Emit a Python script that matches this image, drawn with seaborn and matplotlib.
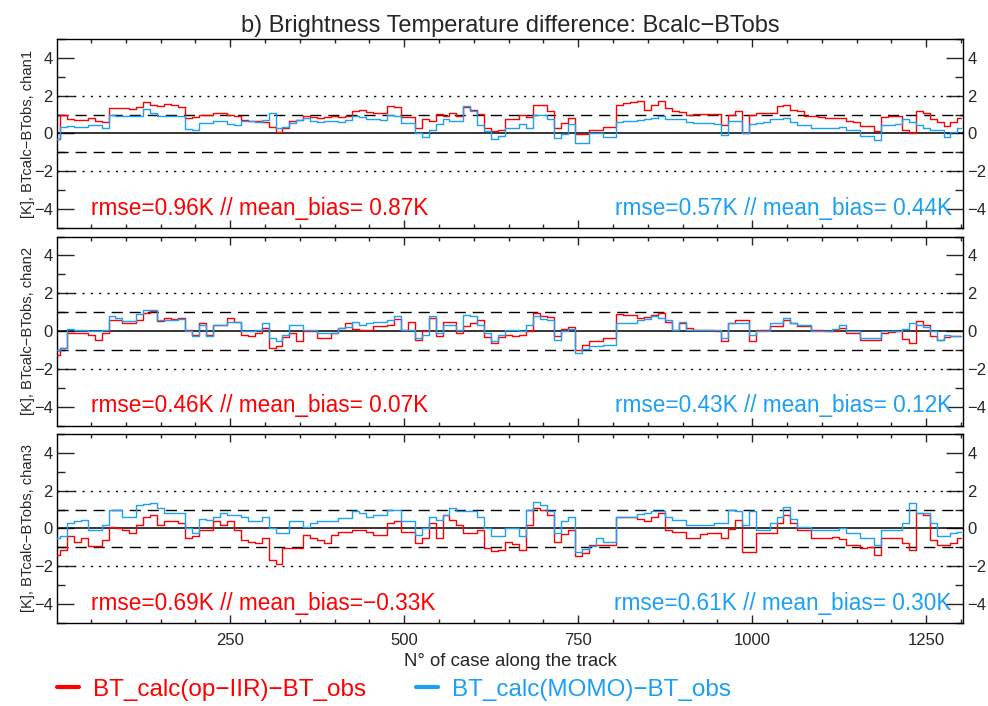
import numpy as np
import pandas as pd
import matplotlib
matplotlib.use("Agg")
import matplotlib.pyplot as plt
from matplotlib.ticker import MultipleLocator
from matplotlib.lines import Line2D
import seaborn as sns

sns.set_style("ticks")
plt.rcParams['font.family'] = ['Liberation Sans', 'DejaVu Sans']
plt.rcParams['axes.unicode_minus'] = True

# ---------------- data (case index every 10 cases) ----------------
cases = np.arange(0, 1301, 10)

chan1_opiir = [
    -0.3, 1.0, 0.75, 0.7, 0.7, 0.8, 0.65, 0.6, 1.35, 1.33,
    1.33, 1.3, 1.4, 1.65, 1.5, 1.45, 1.55, 1.5, 1.4, 0.82,
    0.85, 1.0, 1.0, 1.08, 1.1, 1.0, 0.9, 0.7, 0.65, 0.65,
    0.6, 0.35, 0.1, 0.3, 0.65, 0.7, 0.95, 0.85, 0.82, 0.85,
    0.9, 0.88, 0.95, 1.2, 1.26, 1.14, 1.1, 1.09, 1.44, 1.4,
    0.88, 0.86, 0.3, 0.74, 0.65, 1.05, 0.9, 1.09, 0.9, 1.4,
    1.26, 1.05, 0.3, 0.12, 0.2, 0.74, 0.74, 1.0, 0.85, 1.53,
    1.53, 1.18, 0.3, 0.56, 0.8, -0.05, -0.05, 0.16, 0.16, 0.33,
    0.33, 1.53, 1.6, 1.65, 1.7, 1.26, 1.53, 1.7, 1.35, 1.18,
    1.15, 1.0, 1.04, 1.04, 1.04, 1.04, 0.47, 1.0, 1.18, 0.04,
    1.0, 1.09, 1.09, 1.09, 1.44, 1.5, 1.26, 1.2, 0.91, 0.9,
    0.88, 0.82, 0.82, 0.8, 0.65, 0.6, 0.39, 0.39, 0.12, 0.85,
    0.9, 0.9, 0.21, 0.0, 1.18, 1.1, 0.74, 0.6, 0.39, 0.6,
    0.8]
chan1_momo = [
    -0.3, 0.35, 0.38, 0.35, 0.35, 0.47, 0.47, 0.3, 1.0, 0.95,
    0.95, 0.9, 0.95, 1.3, 1.1, 0.95, 0.95, 0.9, 0.9, 0.25,
    0.2, 0.55, 0.55, 0.65, 0.65, 0.5, 0.45, 0.65, 0.65, 0.62,
    0.7, 1.1, 0.3, 0.35, 0.55, 0.7, 0.82, 0.65, 0.62, 0.65,
    0.65, 0.6, 0.7, 0.9, 0.86, 0.74, 0.74, 0.72, 1.0, 0.95,
    0.56, 0.56, 0.04, -0.2, 0.21, 0.5, 0.74, 0.65, 0.65, 1.44,
    1.2, 0.47, 0.12, -0.3, -0.14, 0.3, 0.3, 0.5, 0.3, 1.0,
    1.0, 0.74, -0.23, -0.05, 0.5, -0.5, -0.5, 0.04, 0.04, -0.2,
    -0.2, 0.6, 0.65, 0.65, 0.7, 0.75, 0.82, 0.91, 0.74, 0.74,
    0.74, 0.6, 0.56, 0.56, 0.56, 0.5, -0.1, 0.65, 0.65, 0.04,
    0.5, 0.55, 0.6, 0.74, 0.74, 0.8, 0.6, 0.47, 0.47, 0.3,
    0.3, 0.3, 0.28, 0.35, 0.2, 0.2, -0.15, -0.15, -0.35, 0.45,
    0.47, 0.5, 0.74, 0.6, 0.47, 0.3, 0.21, 0.2, -0.2, 0.1,
    0.3]
chan2_opiir = [
    -1.25, -0.9, -0.1, -0.1, -0.1, -0.2, -0.46, -0.1, 0.6, 0.6,
    0.42, 0.42, 0.6, 0.95, 1.04, 0.51, 0.7, 0.65, 0.7, 0.07,
    -0.2, 0.42, -0.2, 0.34, 0.34, 0.7, 0.5, -0.2, -0.28, -0.1,
    0.16, -0.9, -0.8, -0.3, -0.1, -0.55, 0.0, 0.0, -0.37, -0.37,
    -0.1, 0.16, 0.42, 0.1, 0.07, 0.07, 0.25, 0.25, 0.3, 0.65,
    0.07, 0.5, -0.46, 0.0, 0.7, -0.28, 0.5, 0.5, -0.1, 0.25,
    0.42, 0.6, -0.3, -0.64, -0.3, -0.2, -0.28, -0.2, 0.0, 0.96,
    0.8, 0.75, -0.28, 0.1, 0.2, -1.0, -0.75, -0.55, -0.55, -0.37,
    -0.37, 0.9, 0.87, 0.87, 0.7, 0.75, 0.87, 0.96, 0.5, 0.07,
    0.42, 0.16, 0.07, 0.07, 0.07, 0.0, -0.55, 0.42, 0.6, 0.6,
    -0.55, 0.07, 0.07, 0.25, 0.25, 0.6, 0.4, 0.25, 0.25, 0.07,
    0.07, 0.0, 0.0, 0.16, -0.1, -0.1, -0.46, -0.46, -0.46, -0.1,
    -0.05, 0.0, -0.4, -0.64, 0.51, 0.3, -0.28, -0.46, -0.3, -0.28,
    -0.28]
chan2_momo = [
    -1.0, -0.9, 0.1, 0.07, 0.07, 0.0, 0.0, 0.07, 0.78, 0.7,
    0.51, 0.55, 0.9, 1.13, 1.1, 0.6, 0.6, 0.6, 0.65, 0.0,
    -0.28, 0.34, -0.28, 0.34, 0.34, 0.5, 0.5, 0.0, 0.0, 0.07,
    0.42, -0.37, -0.55, -0.2, 0.34, 0.3, 0.07, 0.07, -0.1, -0.1,
    -0.1, 0.16, 0.2, 0.5, 0.34, 0.4, 0.5, 0.5, 0.6, 0.78,
    0.07, 0.07, -0.37, -0.2, 0.78, -0.1, 0.34, 0.34, 0.07, 0.87,
    0.8, 0.34, -0.1, -0.55, -0.2, 0.07, 0.07, 0.0, 0.3, 0.78,
    0.65, 0.6, -0.46, 0.0, 0.1, -1.17, -0.95, -0.8, -0.8, -0.73,
    -0.73, 0.45, 0.42, 0.45, 0.6, 0.65, 0.78, 0.7, 0.6, 0.07,
    0.5, 0.07, 0.07, 0.07, 0.07, 0.05, -0.37, 0.42, 0.42, 0.4,
    -0.2, 0.0, 0.0, 0.42, 0.42, 0.7, 0.4, 0.34, 0.34, 0.0,
    0.0, 0.0, 0.1, 0.34, 0.0, 0.0, -0.37, -0.37, -0.37, 0.0,
    0.0, 0.0, 0.1, 0.42, 0.34, 0.2, 0.0, -0.46, -0.2, -0.28,
    -0.28]
chan3_opiir = [
    -1.4, -1.13, -0.42, -0.69, -0.51, -0.95, -0.95, -0.6, 0.1, 0.02,
    -0.1, -0.25, 0.2, 0.63, 0.7, 0.2, 0.37, 0.37, 0.3, -0.5,
    -0.42, -0.07, -0.07, 0.37, 0.2, 0.37, -0.1, -0.6, -0.7, -0.78,
    -0.51, -1.66, -1.9, -1.04, -1.04, -1.04, -0.33, -0.51, -0.6, -0.78,
    -0.33, -0.16, -0.2, -0.07, -0.07, -0.16, -0.33, -0.33, 0.3, 0.37,
    -0.16, -0.2, -0.78, -0.5, 0.28, -0.5, 0.72, 0.46, 0.2, -0.25,
    -0.25, -0.07, -1.04, -1.2, -1.13, -0.69, -0.8, -1.13, 0.2, 1.1,
    1.0, 0.72, -0.69, -0.3, -0.1, -1.48, -1.3, -0.86, -0.86, -0.86,
    -0.86, 0.63, 0.63, 0.63, 0.5, 0.37, 0.6, 0.81, -0.07, -0.16,
    -0.16, -0.51, -0.51, -0.3, -0.25, -0.25, -0.5, -0.05, 0.46, -1.22,
    -1.22, -0.25, -0.25, -0.25, 0.3, 0.72, 0.28, -0.07, -0.07, -0.51,
    -0.51, -0.51, -0.45, -0.55, -0.86, -0.86, -1.04, -1.0, -1.4, -0.51,
    -0.51, -0.5, -0.78, -1.13, 0.81, 0.7, -0.6, -0.86, -0.86, -0.78,
    -0.51]
chan3_momo = [
    -0.51, -0.4, 0.28, 0.37, 0.46, -0.07, -0.07, 0.2, 1.0, 1.0,
    0.63, 0.63, 1.25, 1.3, 1.34, 1.08, 0.81, 0.81, 0.81, 0.02,
    -0.25, 0.5, 0.46, 0.6, 0.81, 0.72, 0.72, 0.6, 0.37, 0.37,
    0.6, 0.02, -0.25, -0.25, 0.37, 0.37, 0.1, 0.28, 0.37, 0.37,
    0.37, 0.55, 0.55, 0.9, 0.81, 0.63, 0.72, 0.72, 1.0, 1.0,
    0.37, 0.37, -0.33, 0.0, 0.63, 0.46, 0.72, 1.1, 0.9, 0.9,
    0.9, 0.6, 0.02, -0.42, -0.42, 0.02, 0.02, -0.42, 1.0, 1.4,
    1.25, 0.9, -0.25, 0.4, 0.6, -1.22, -1.1, -0.95, -0.51, -0.69,
    -0.69, 0.63, 0.63, 0.63, 0.75, 0.81, 0.9, 0.9, 0.63, 0.46,
    0.46, 0.2, 0.2, 0.2, 0.2, 0.28, 0.28, 1.0, 0.9, 0.2,
    0.9, -0.07, -0.07, 0.3, 0.63, 1.16, 0.5, 0.1, 0.1, -0.07,
    -0.07, -0.07, -0.07, 0.0, -0.25, -0.25, -0.51, -0.5, -0.86, -0.07,
    -0.07, -0.07, 0.3, 1.34, 0.81, 0.81, 0.28, -0.42, -0.42, -0.25,
    -0.16]

channels = ["chan1", "chan2", "chan3"]
opiir_series = [chan1_opiir, chan2_opiir, chan3_opiir]
momo_series = [chan1_momo, chan2_momo, chan3_momo]
opiir_stats = ["rmse=0.96K // mean_bias= 0.87K",
               "rmse=0.46K // mean_bias= 0.07K",
               "rmse=0.69K // mean_bias=\u22120.33K"]
momo_stats = ["rmse=0.57K // mean_bias= 0.44K",
              "rmse=0.43K // mean_bias= 0.12K",
              "rmse=0.61K // mean_bias= 0.30K"]
xticks = [250, 500, 750, 1000, 1250]
yticks = [-4, -2, 0, 2, 4]

RED = "#FF0000"
BLUE = "#1AA0F5"

fig = plt.figure(figsize=(9.88, 7.06), dpi=100)
left, width, height = 0.0577, 0.917, 0.2677
bottoms = [0.6771, 0.3973, 0.1176]

axes = []
for i in range(3):
    ax = fig.add_axes([left, bottoms[i], width, height])
    axes.append(ax)
    ax.axhline(0, color="black", lw=1.1, zorder=1)
    for yv in (-1, 1):
        ax.axhline(yv, color="black", lw=1.0, ls=(0, (8, 5)), zorder=1)
    for yv in (-2, 2):
        ax.axhline(yv, color="black", lw=1.0, ls=(0, (1.5, 4.5)), zorder=1)
    df = pd.DataFrame({"case": cases, "op": opiir_series[i], "momo": momo_series[i]})
    sns.lineplot(data=df, x="case", y="op", color=RED, lw=1.0, ax=ax, zorder=3,
                 drawstyle="steps-mid")
    sns.lineplot(data=df, x="case", y="momo", color=BLUE, lw=1.0, ax=ax, zorder=4,
                 drawstyle="steps-mid")
    ax.set_xlim(1, 1303)
    ax.set_ylim(-5, 5)
    ax.set_xticks(xticks)
    ax.set_yticks(yticks)
    ax.xaxis.set_minor_locator(MultipleLocator(50))
    ax.yaxis.set_minor_locator(MultipleLocator(1))
    ax.tick_params(axis="y", which="major", direction="in", length=12, width=1,
                   left=True, right=True, labelleft=True, labelright=True,
                   labelsize=12, pad=3)
    ax.tick_params(axis="y", which="minor", direction="in", length=5.5, width=1,
                   left=True, right=True)
    ax.tick_params(axis="x", which="major", direction="in", length=6, width=1,
                   top=True, bottom=True, labelbottom=(i == 2), labelsize=12, pad=7)
    ax.tick_params(axis="x", which="minor", direction="in", length=3, width=1,
                   top=True, bottom=True)
    for sp in ax.spines.values():
        sp.set_linewidth(1.0)
        sp.set_color("black")
    ax.set_xlabel("")
    ax.set_ylabel("")
    ax.text(-0.032, 0.5, "[K], BTcalc\u2212BTobs, " + channels[i], transform=ax.transAxes,
            rotation=90, ha="center", va="center", fontsize=10.6)
    ax.text(50, -3.95, opiir_stats[i], color=RED, fontsize=16.3, ha="left", va="center")
    ax.text(1287, -3.95, momo_stats[i], color=BLUE, fontsize=16.3, ha="right", va="center")

axes[0].set_title("b) Brightness Temperature difference: Bcalc\u2212BTobs", fontsize=17, pad=5)
axes[2].set_xlabel("N\u00b0 of case along the track", fontsize=13.4, labelpad=4)

handles = [Line2D([], [], color=RED, lw=3), Line2D([], [], color=BLUE, lw=3)]
fig.legend(handles, ["BT_calc(op\u2212IIR)\u2212BT_obs", "BT_calc(MOMO)\u2212BT_obs"],
           loc="center left", bbox_to_anchor=(0.0577, 0.023), ncol=2, frameon=False,
           fontsize=17.5, handlelength=0.9, handletextpad=0.58, columnspacing=2.06,
           borderpad=0, borderaxespad=0, labelcolor=[RED, BLUE])

fig.savefig("out.png", dpi=100)
